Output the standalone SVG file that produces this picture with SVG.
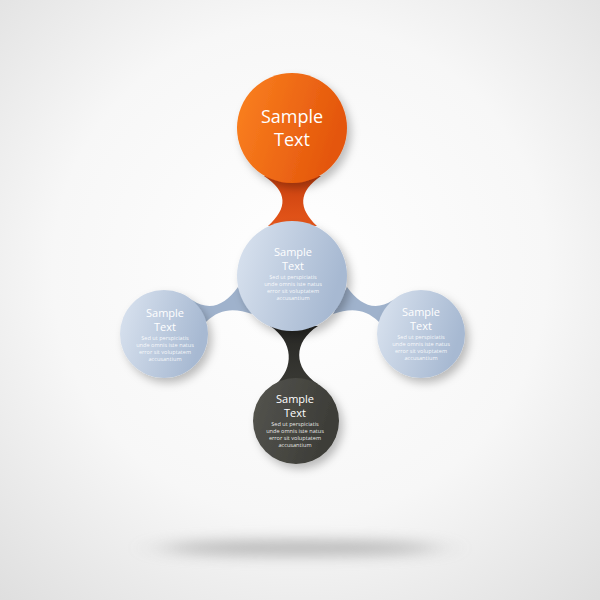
<svg xmlns="http://www.w3.org/2000/svg" width="600" height="600" viewBox="0 0 600 600">
  <defs>
    <radialGradient id="bg" cx="50%" cy="45%" r="75%">
      <stop offset="0" stop-color="#ffffff"/>
      <stop offset="0.55" stop-color="#f7f7f7"/>
      <stop offset="1" stop-color="#dedede"/>
    </radialGradient>
    <linearGradient id="gOrange" x1="0" y1="0" x2="1" y2="0.3">
      <stop offset="0" stop-color="#fb8220"/>
      <stop offset="1" stop-color="#e4560c"/>
    </linearGradient>
    <linearGradient id="gBlue" x1="0" y1="0" x2="1" y2="0.3">
      <stop offset="0" stop-color="#dbe4f0"/>
      <stop offset="1" stop-color="#a7b9d2"/>
    </linearGradient>
    <linearGradient id="gDark" x1="0" y1="0" x2="1" y2="0.3">
      <stop offset="0" stop-color="#55554f"/>
      <stop offset="1" stop-color="#3c3c37"/>
    </linearGradient>
    <linearGradient id="gNeckO" x1="0" y1="0" x2="0" y2="1">
      <stop offset="0" stop-color="#c9400e"/>
      <stop offset="1" stop-color="#e5561a"/>
    </linearGradient>
    <linearGradient id="gNeckD" x1="0" y1="0" x2="0" y2="1">
      <stop offset="0" stop-color="#262623"/>
      <stop offset="1" stop-color="#3a3a35"/>
    </linearGradient>
    <filter id="sh" x="-30%" y="-30%" width="170%" height="170%">
      <feDropShadow dx="4" dy="5" stdDeviation="4" flood-color="#000" flood-opacity="0.25"/>
    </filter>
    <filter id="blur" x="-30%" y="-300%" width="160%" height="700%">
      <feGaussianBlur stdDeviation="18 7"/>
    </filter>
  </defs>
  <style>
    text { font-family: "Open Sans", "Liberation Sans", sans-serif; fill: #ffffff; text-anchor: middle; }
    .big { font-size: 18px; }
    .mid { font-size: 11px; }
    .sm { font-size: 5.6px; fill-opacity: 0.9; }
  </style>
  <rect width="600" height="600" fill="url(#bg)"/>
  <ellipse cx="300" cy="548" rx="140" ry="8" fill="#808080" opacity="0.5" filter="url(#blur)"/>

  <g id="connectors">
    <path d="M264,176 C288,192 288,208 268,226 L317,226 C298,208 298,192 321,176 Z" fill="url(#gNeckO)"/>
    <path d="M270,326 C294,342 294,368 276,384 L318,384 C293,368 293,342 318,326 Z" fill="url(#gNeckD)"/>
    <path d="M192,300 C210,312 225,305 238,287 L252,314 C235,308 220,308 206,322 Z" fill="#9fb2cc"/>
    <path d="M393,300 C375,312 360,305 347,287 L333,314 C350,308 365,308 379,322 Z" fill="#9fb2cc"/>
  </g>

  <g id="node-top">
    <circle cx="292" cy="128" r="55" fill="url(#gOrange)" filter="url(#sh)"/>
    <text class="big" x="292" y="123">Sample</text>
    <text class="big" x="292" y="146">Text</text>
  </g>

  <g id="node-center">
    <circle cx="292" cy="276" r="55" fill="url(#gBlue)" filter="url(#sh)"/>
    <text class="mid" x="293" y="256">Sample</text>
    <text class="mid" x="293" y="270">Text</text>
    <text class="sm" x="293" y="278.5">Sed ut perspiciatis</text>
    <text class="sm" x="293" y="285.5">unde omnis iste natus</text>
    <text class="sm" x="293" y="292.5">error sit voluptatem</text>
    <text class="sm" x="293" y="299.5">accusantium</text>
  </g>

  <g id="node-left">
    <circle cx="164" cy="334" r="44" fill="url(#gBlue)" filter="url(#sh)"/>
    <text class="mid" x="165" y="317">Sample</text>
    <text class="mid" x="165" y="331">Text</text>
    <text class="sm" x="165" y="339.5">Sed ut perspiciatis</text>
    <text class="sm" x="165" y="346.5">unde omnis iste natus</text>
    <text class="sm" x="165" y="353.5">error sit voluptatem</text>
    <text class="sm" x="165" y="360.5">accusantium</text>
  </g>

  <g id="node-right">
    <circle cx="421" cy="334" r="44" fill="url(#gBlue)" filter="url(#sh)"/>
    <text class="mid" x="421" y="316">Sample</text>
    <text class="mid" x="421" y="330">Text</text>
    <text class="sm" x="421" y="338.5">Sed ut perspiciatis</text>
    <text class="sm" x="421" y="345.5">unde omnis iste natus</text>
    <text class="sm" x="421" y="352.5">error sit voluptatem</text>
    <text class="sm" x="421" y="359.5">accusantium</text>
  </g>

  <g id="node-bottom">
    <circle cx="296" cy="421" r="43" fill="url(#gDark)" filter="url(#sh)"/>
    <text class="mid" x="295" y="403">Sample</text>
    <text class="mid" x="295" y="417">Text</text>
    <text class="sm" x="295" y="425.5">Sed ut perspiciatis</text>
    <text class="sm" x="295" y="432.5">unde omnis iste natus</text>
    <text class="sm" x="295" y="439.5">error sit voluptatem</text>
    <text class="sm" x="295" y="446.5">accusantium</text>
  </g>
</svg>
